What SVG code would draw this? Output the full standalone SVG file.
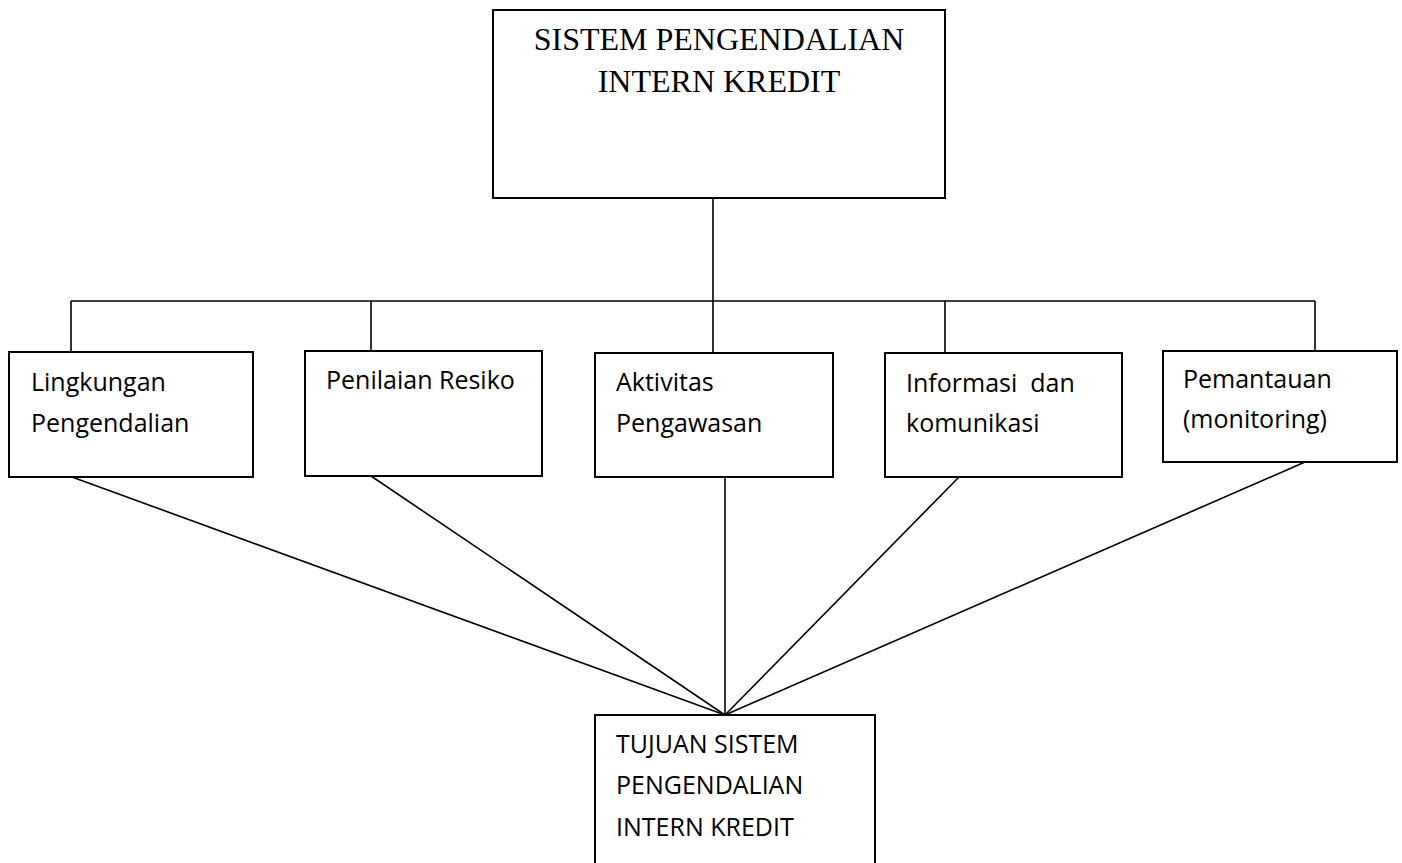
<svg xmlns="http://www.w3.org/2000/svg" width="1402" height="863" viewBox="0 0 1402 863">
<style>
.box{fill:#fff;stroke:#000;stroke-width:2}
.ln{fill:none;stroke:#000;stroke-width:1.6}
.t{font-family:"Open Sans","Noto Sans",sans-serif;font-size:25px;fill:#000}
.s{font-family:"Liberation Serif","Times New Roman",serif;font-size:32px;fill:#000;text-anchor:middle}
</style>
<rect width="1402" height="863" fill="#fff"/>
<g id="connectors">
<line class="ln" x1="713" y1="198" x2="713" y2="301"/>
<line class="ln" x1="71" y1="301" x2="1315" y2="301"/>
<line class="ln" x1="71" y1="301" x2="71" y2="352"/>
<line class="ln" x1="371" y1="301" x2="371" y2="351"/>
<line class="ln" x1="713" y1="301" x2="713" y2="353"/>
<line class="ln" x1="945" y1="301" x2="945" y2="353"/>
<line class="ln" x1="1315" y1="301" x2="1315" y2="351"/>
<line class="ln" x1="72" y1="477" x2="725" y2="715"/>
<line class="ln" x1="371" y1="476" x2="725" y2="715"/>
<line class="ln" x1="725" y1="477" x2="725" y2="715"/>
<line class="ln" x1="959" y1="477" x2="725" y2="715"/>
<line class="ln" x1="1305" y1="462" x2="725" y2="715"/>
</g>
<g id="top">
<rect class="box" x="493" y="10" width="452" height="188"/>
<text class="s" x="719" y="50">SISTEM PENGENDALIAN</text>
<text class="s" x="719" y="92">INTERN KREDIT</text>
</g>
<g id="lingkungan">
<rect class="box" x="9" y="352" width="244" height="125"/>
<text class="t" x="31" y="391">Lingkungan</text>
<text class="t" x="31" y="432">Pengendalian</text>
</g>
<g id="penilaian">
<rect class="box" x="305" y="351" width="237" height="125"/>
<text class="t" x="326" y="389">Penilaian Resiko</text>
</g>
<g id="aktivitas">
<rect class="box" x="595" y="353" width="238" height="124"/>
<text class="t" x="616" y="391">Aktivitas</text>
<text class="t" x="616" y="432">Pengawasan</text>
</g>
<g id="informasi">
<rect class="box" x="885" y="353" width="237" height="124"/>
<text class="t" x="906" y="392" xml:space="preserve">Informasi  dan</text>
<text class="t" x="906" y="432">komunikasi</text>
</g>
<g id="pemantauan">
<rect class="box" x="1163" y="351" width="234" height="111"/>
<text class="t" x="1183" y="388">Pemantauan</text>
<text class="t" x="1183" y="428">(monitoring)</text>
</g>
<g id="tujuan">
<rect class="box" x="595" y="715" width="280" height="160"/>
<text class="t" x="616" y="753">TUJUAN SISTEM</text>
<text class="t" x="616" y="794">PENGENDALIAN</text>
<text class="t" x="616" y="836">INTERN KREDIT</text>
</g>
</svg>
